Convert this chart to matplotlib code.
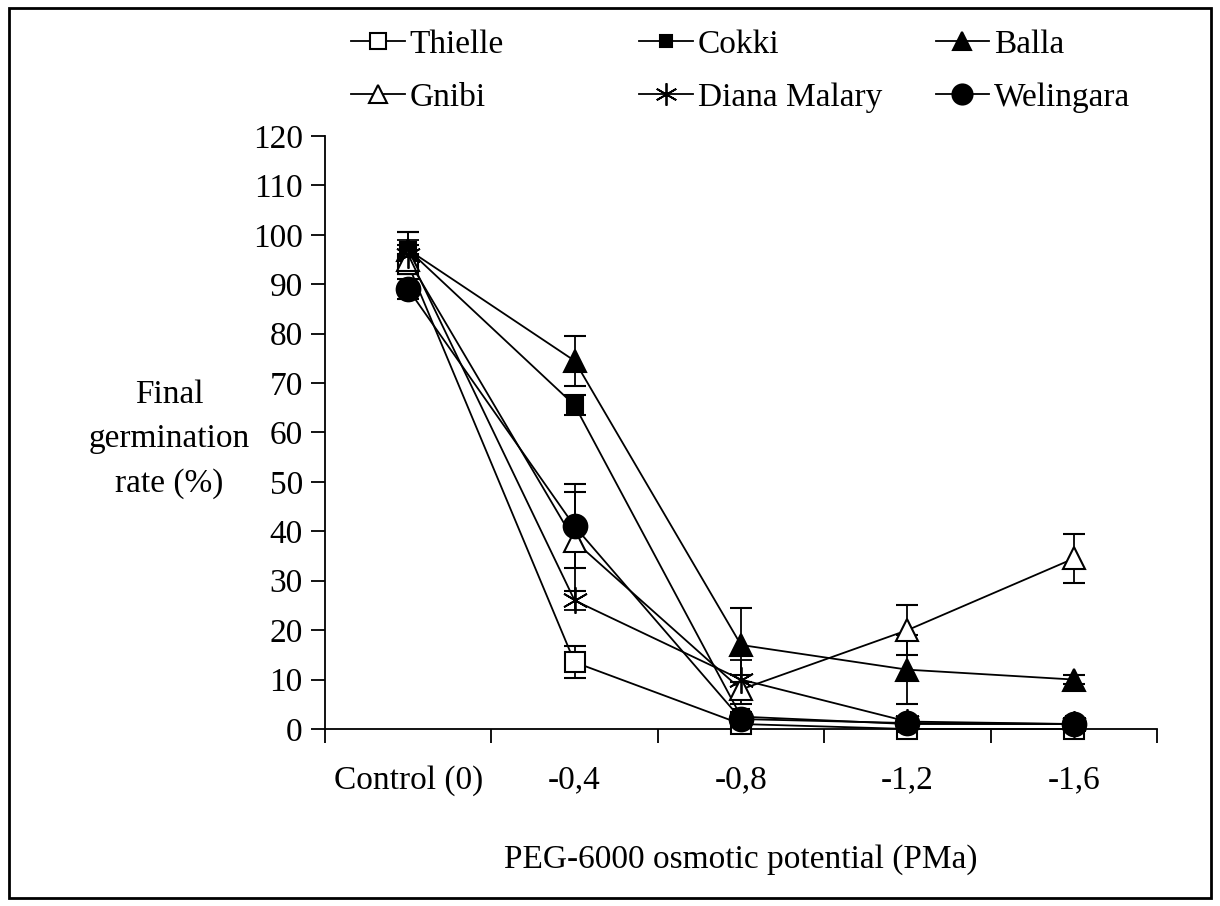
import matplotlib.pyplot as plt
from matplotlib.patches import Rectangle
from matplotlib.lines import Line2D

# categories on the x axis
levels = ["Control (0)", "-0,4", "-0,8", "-1,2", "-1,6"]

# final germination rate (%) per variety
thielle = [94, 13.5, 1, 0, 0]
cokki = [97, 65.5, 2.5, 1, 1]
balla = [97, 74.5, 17, 12, 10]
gnibi = [95, 38, 8, 20, 34.5]
diana = [96, 26, 10, 1.5, 1]
welingara = [89, 41, 2, 1.2, 1]

# standard errors
thielle_err = [2, 3.2, 1, 0, 0]
cokki_err = [3.5, 2, 1, 0.5, 0.5]
balla_err = [3.5, 5, 7.5, 7, 1]
gnibi_err = [3, 10, 3, 5, 5]
diana_err = [3, 2, 4, 0.5, 0.5]
welingara_err = [2, 8.5, 1, 0.5, 0.5]

names = ["Thielle", "Cokki", "Balla", "Gnibi", "Diana Malary", "Welingara"]

plt.rcParams['font.family'] = ['Liberation Serif', 'DejaVu Serif']
fs = 24

fig = plt.figure(figsize=(12.2, 9.06), dpi=100)
ax = fig.add_axes([0.2664, 0.1954, 0.682, 0.6545])

asterisk = (6, 2, 0)
styles = [
    dict(marker='s', mfc='white', ms=14),
    dict(marker='s', mfc='black', ms=11),
    dict(marker='^', mfc='black', ms=16),
    dict(marker='^', mfc='white', ms=16),
    dict(marker=asterisk, mfc='black', ms=19, mew=1.3),
    dict(marker='o', mfc='black', ms=17),
]
series = [thielle, cokki, balla, gnibi, diana, welingara]
errs = [thielle_err, cokki_err, balla_err, gnibi_err, diana_err, welingara_err]

x = list(range(len(levels)))
handles = []
for vals, err, st, name in zip(series, errs, styles, names):
    ax.errorbar(x, vals, yerr=err, color='black', lw=1.3, capsize=8,
                elinewidth=1.3, capthick=1.3, mec='black',
                mew=st.get('mew', 1.5), marker=st['marker'],
                mfc=st['mfc'], ms=st['ms'], clip_on=False, zorder=3)
    handles.append(Line2D([], [], color='black', lw=1.3, marker=st['marker'],
                          mfc=st['mfc'], mec='black', ms=st['ms'] * 0.85,
                          mew=st.get('mew', 1.5)))

ax.set_xlim(-0.5, 4.5)
ax.set_ylim(0, 120)
ax.set_yticks(range(0, 121, 10))
ax.set_xticks([i - 0.5 for i in range(6)])
ax.set_xticklabels([])
ax.set_xticks(x, minor=True)
ax.set_xticklabels(levels, minor=True)
ax.tick_params(axis='x', which='minor', length=0, pad=26, labelsize=fs)
ax.tick_params(axis='x', which='major', length=10, width=1.3, direction='out')
ax.tick_params(axis='y', length=10, width=1.3, direction='out', pad=6, labelsize=fs)
for s in ['top', 'right']:
    ax.spines[s].set_visible(False)
for s in ['left', 'bottom']:
    ax.spines[s].set_linewidth(1.3)

ax.set_xlabel("PEG-6000 osmotic potential (PMa)", fontsize=fs, labelpad=35)
fig.text(0.139, 0.515, "Final\ngermination\nrate (%)", fontsize=fs,
         ha='center', va='center', linespacing=1.6)

# legend, one block per column
col_x = [0.277, 0.513, 0.756]
for c in range(3):
    idx = [c, c + 3]
    fig.legend([handles[i] for i in idx], [names[i] for i in idx],
               loc='upper left', bbox_to_anchor=(col_x[c], 0.982),
               frameon=False, fontsize=fs, handlelength=1.6,
               handletextpad=0.15, labelspacing=0.66, borderaxespad=0)

fig.patches.append(Rectangle((0.007, 0.009), 0.986, 0.982, transform=fig.transFigure,
                             fill=False, edgecolor='black', lw=2))

fig.savefig("out.png", dpi=100)
